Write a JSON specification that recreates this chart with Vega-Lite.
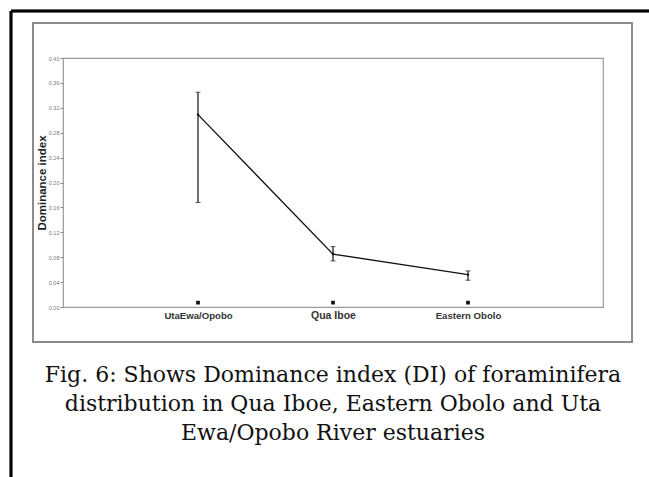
{
  "$schema": "https://vega.github.io/schema/vega-lite/v6.json",
  "width": 540,
  "height": 249,
  "autosize": {"type": "none"},
  "padding": {"left": 63, "top": 58, "right": 46, "bottom": 170},
  "background": "white",
  "config": {
    "view": {"stroke": "#9a9a9a", "strokeWidth": 1.2},
    "font": "Liberation Sans",
    "axis": {"labelOverlap": false}
  },
  "title": {
    "text": ["Fig. 6: Shows Dominance index (DI) of foraminifera", "distribution in Qua Iboe, Eastern Obolo and Uta", "Ewa/Opobo River estuaries"],
    "orient": "bottom",
    "anchor": "middle",
    "frame": "group",
    "font": "DejaVu Serif",
    "fontSize": 22,
    "fontWeight": "normal",
    "color": "#111",
    "lineHeight": 29,
    "offset": -113
  },
  "data": {
    "values": [
      {"site": "UtaEwa/Opobo", "mean": 0.309, "lo": 0.168, "hi": 0.345, "marker": 0.007},
      {"site": "Qua Iboe", "mean": 0.085, "lo": 0.074, "hi": 0.097, "marker": 0.007},
      {"site": "Eastern Obolo", "mean": 0.052, "lo": 0.043, "hi": 0.058, "marker": 0.007}
    ]
  },
  "resolve": {"scale": {"x": "independent", "y": "independent"}, "axis": {"x": "independent", "y": "independent"}},
  "layer": [
    {
      "layer": [
        {
          "mark": {"type": "rect", "fillOpacity": 0, "fill": "white", "stroke": "#8c8c8c", "strokeWidth": 2},
          "encoding": {
            "x": {"datum": -0.05556, "type": "quantitative", "scale": {"domain": [0, 1], "nice": false, "zero": false}, "axis": null},
            "x2": {"datum": 1.0537},
            "y": {"datum": -0.1406, "type": "quantitative", "scale": {"domain": [0, 1], "nice": false, "zero": false}, "axis": null},
            "y2": {"datum": 1.1406}
          }
        },
        {
          "mark": {"type": "rule", "color": "#000", "strokeWidth": 2.5},
          "encoding": {
            "x": {"datum": -0.0963, "type": "quantitative"},
            "x2": {"datum": 1.0852},
            "y": {"datum": 1.1888, "type": "quantitative"}
          }
        },
        {
          "mark": {"type": "rule", "color": "#000", "strokeWidth": 2.5},
          "encoding": {
            "x": {"datum": -0.0963, "type": "quantitative"},
            "y": {"datum": -0.6827, "type": "quantitative"},
            "y2": {"datum": 1.1888}
          }
        }
      ]
    },
    {
      "encoding": {
        "x": {
          "field": "site",
          "type": "nominal",
          "sort": ["UtaEwa/Opobo", "Qua Iboe", "Eastern Obolo"],
          "scale": {"type": "point", "padding": 1},
          "axis": {
            "title": null,
            "orient": "bottom",
            "domain": false,
            "ticks": false,
            "labelAngle": 0,
            "labelPadding": 3,
            "labelOverlap": false,
            "labelFont": "Liberation Sans",
            "labelFontWeight": "bold",
            "labelColor": "#333",
            "labelFontSize": {"condition": {"test": "datum.value == 'Qua Iboe'", "value": 10.5}, "value": 9.6}
          }
        }
      },
      "layer": [
        {
          "mark": {"type": "line", "color": "#111", "strokeWidth": 1.3},
          "encoding": {
            "y": {
              "field": "mean",
              "type": "quantitative",
              "scale": {"domain": [0, 0.4], "nice": false, "zero": false},
              "axis": {
                "orient": "left",
                "values": [0, 0.04, 0.08, 0.12, 0.16, 0.2, 0.24, 0.28, 0.32, 0.36, 0.4],
                "tickCount": 11,
                "format": ".2f",
                "labelOverlap": false,
                "domain": false,
                "grid": false,
                "tickSize": 3,
                "tickColor": "#888",
                "labelFontSize": 5.5,
                "labelColor": "#777",
                "labelPadding": 1,
                "title": "Dominance index",
                "titleFont": "Liberation Sans",
                "titleFontSize": 11.5,
                "titleFontWeight": "bold",
                "titleColor": "#222",
                "titlePadding": 1
              }
            }
          }
        },
        {
          "mark": {"type": "rule", "color": "#111", "strokeWidth": 1.2},
          "encoding": {"y": {"field": "lo", "type": "quantitative"}, "y2": {"field": "hi"}}
        },
        {
          "mark": {"type": "tick", "color": "#111", "size": 5, "thickness": 1},
          "encoding": {"y": {"field": "lo", "type": "quantitative"}}
        },
        {
          "mark": {"type": "tick", "color": "#111", "size": 5, "thickness": 1},
          "encoding": {"y": {"field": "hi", "type": "quantitative"}}
        },
        {
          "mark": {"type": "point", "shape": "circle", "filled": true, "color": "#111", "size": 6, "opacity": 1},
          "encoding": {"y": {"field": "mean", "type": "quantitative"}}
        },
        {
          "mark": {"type": "point", "shape": "square", "filled": true, "color": "#111", "size": 14, "opacity": 1},
          "encoding": {"y": {"field": "marker", "type": "quantitative"}}
        }
      ]
    }
  ]
}
